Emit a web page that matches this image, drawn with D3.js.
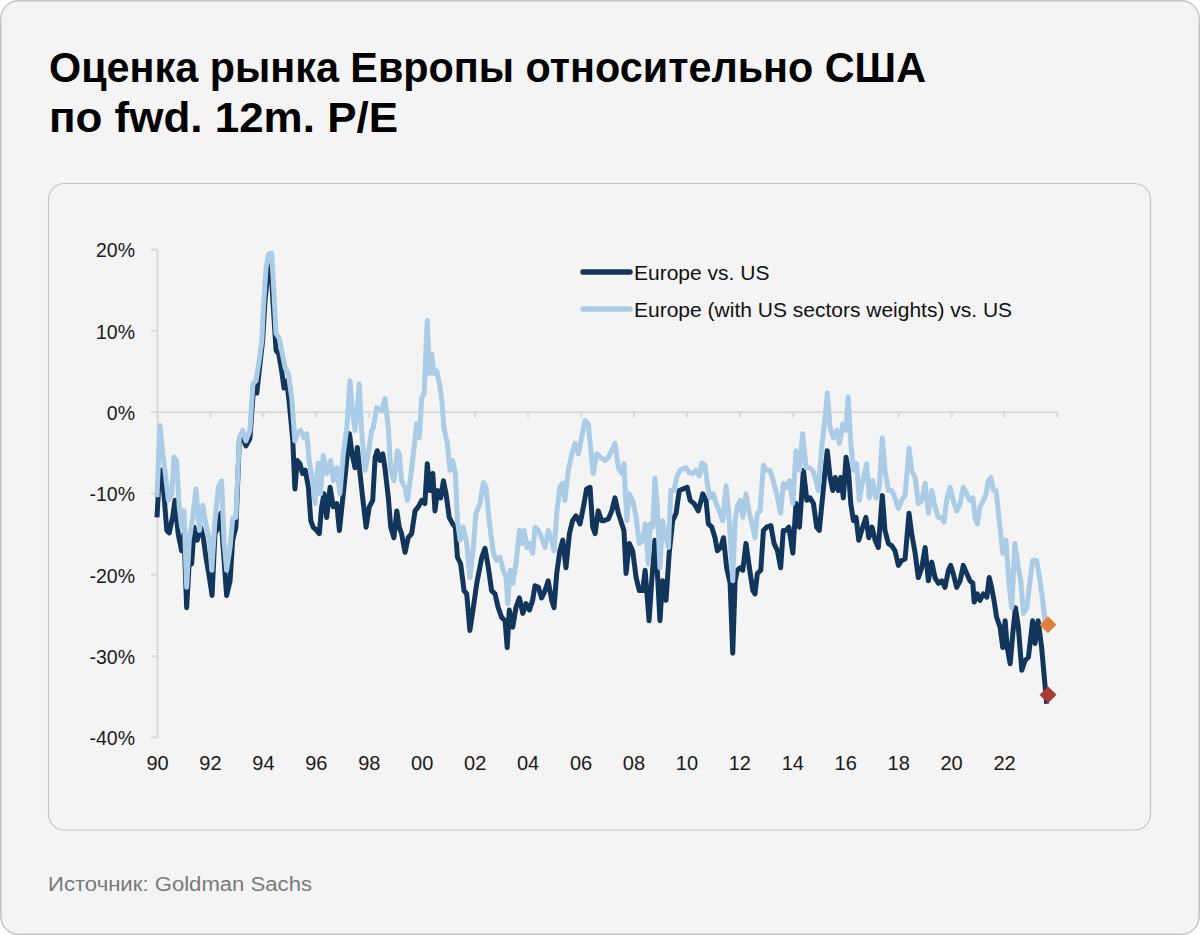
<!DOCTYPE html>
<html>
<head>
<meta charset="utf-8">
<script src="https://cdn.jsdelivr.net/npm/d3@7"></script>
<style>
  html, body { margin: 0; padding: 0; background: #ffffff; }
  svg { display: block; }
</style>
</head>
<body>
<svg id="chart" width="1200" height="935"></svg>
<script>
// ---------------- DATA ----------------
const titleLines = ["Оценка рынка Европы относительно США", "по fwd. 12m. P/E"];
const sourceText = "Источник: Goldman Sachs";
const seriesNames = ["Europe vs. US", "Europe (with US sectors weights) vs. US"];
const yTicks = [-40, -30, -20, -10, 0, 10, 20];
const xTicks = [1990,1992,1994,1996,1998,2000,2002,2004,2006,2008,2010,2012,2014,2016,2018,2020,2022,2024];
const xTickLabels = ["90","92","94","96","98","00","02","04","06","08","10","12","14","16","18","20","22",""];

// [decimal year, % relative valuation]
const europeVsUS = [
[1990.00,-13.0],[1990.09,-7.6],[1990.18,-7.2],[1990.26,-10.1],[1990.37,-14.6],[1990.46,-14.9],[1990.59,-13.0],[1990.68,-10.9],[1990.80,-15.0],[1990.93,-17.1],
[1991.02,-15.0],[1991.12,-24.1],[1991.22,-18.3],[1991.31,-18.7],[1991.40,-14.2],[1991.52,-15.8],[1991.65,-14.2],[1991.75,-15.5],[1991.85,-17.9],[1991.98,-20.4],
[1992.08,-22.6],[1992.19,-15.0],[1992.32,-14.2],[1992.41,-12.5],[1992.50,-16.7],[1992.63,-22.6],[1992.76,-20.8],[1992.86,-15.8],[1992.98,-14.2],[1993.11,-3.6],
[1993.24,-3.2],[1993.36,-4.2],[1993.51,-3.3],[1993.64,2.6],[1993.77,2.3],[1993.89,5.9],[1993.99,8.7],[1994.08,13.6],[1994.17,16.5],[1994.24,18.2],
[1994.32,16.9],[1994.42,11.5],[1994.50,7.5],[1994.60,7.1],[1994.71,5.0],[1994.80,2.9],[1994.90,3.8],[1995.00,1.0],[1995.13,-3.6],[1995.21,-9.5],
[1995.30,-6.0],[1995.40,-6.4],[1995.50,-7.6],[1995.60,-7.2],[1995.72,-9.3],[1995.81,-13.4],[1995.90,-14.2],[1996.03,-14.6],[1996.13,-15.0],[1996.22,-11.7],
[1996.31,-10.1],[1996.41,-13.0],[1996.54,-9.3],[1996.66,-11.7],[1996.79,-11.3],[1996.89,-14.6],[1997.02,-10.6],[1997.14,-6.9],[1997.27,-2.7],[1997.37,-5.2],
[1997.48,-6.9],[1997.57,-4.4],[1997.67,-7.6],[1997.77,-10.6],[1997.90,-14.2],[1998.02,-11.7],[1998.15,-10.9],[1998.24,-5.6],[1998.32,-4.8],[1998.42,-6.0],
[1998.53,-5.2],[1998.61,-6.9],[1998.74,-10.6],[1998.83,-14.2],[1998.95,-15.5],[1999.06,-12.2],[1999.15,-14.2],[1999.24,-15.0],[1999.37,-17.3],[1999.49,-15.5],
[1999.62,-15.0],[1999.75,-12.2],[1999.87,-11.7],[2000.00,-10.9],[2000.12,-11.3],[2000.21,-6.4],[2000.31,-9.7],[2000.42,-7.6],[2000.50,-12.2],[2000.60,-9.7],
[2000.72,-10.6],[2000.82,-8.5],[2000.92,-10.1],[2001.04,-13.0],[2001.17,-13.8],[2001.27,-14.2],[2001.35,-17.9],[2001.47,-18.7],[2001.60,-22.0],[2001.70,-22.4],
[2001.82,-26.9],[2001.95,-24.1],[2002.08,-21.1],[2002.27,-17.9],[2002.39,-16.8],[2002.52,-19.2],[2002.64,-22.0],[2002.77,-22.4],[2002.89,-24.1],[2003.02,-25.3],
[2003.15,-25.7],[2003.23,-29.0],[2003.31,-24.4],[2003.44,-26.5],[2003.56,-24.1],[2003.69,-22.9],[2003.82,-24.8],[2003.94,-23.6],[2004.07,-24.4],[2004.19,-23.2],
[2004.28,-21.4],[2004.41,-21.6],[2004.53,-22.9],[2004.66,-22.0],[2004.78,-20.8],[2004.91,-23.2],[2005.00,-24.1],[2005.10,-19.9],[2005.22,-17.1],[2005.33,-15.8],
[2005.45,-19.2],[2005.58,-15.0],[2005.70,-13.4],[2005.83,-12.8],[2005.98,-13.8],[2006.11,-11.7],[2006.23,-9.5],[2006.36,-9.3],[2006.46,-14.2],[2006.55,-15.0],
[2006.67,-12.2],[2006.80,-13.4],[2006.89,-13.4],[2007.05,-13.2],[2007.18,-12.2],[2007.30,-10.6],[2007.43,-12.5],[2007.56,-13.8],[2007.64,-14.6],[2007.72,-19.9],
[2007.84,-16.2],[2007.97,-17.1],[2008.10,-20.4],[2008.22,-22.0],[2008.35,-22.0],[2008.44,-19.5],[2008.59,-25.7],[2008.69,-20.8],[2008.81,-15.8],[2008.90,-19.5],
[2009.00,-25.7],[2009.10,-20.8],[2009.23,-23.2],[2009.35,-17.4],[2009.48,-13.4],[2009.61,-12.5],[2009.73,-9.7],[2009.88,-9.5],[2010.03,-9.3],[2010.14,-10.9],
[2010.29,-11.3],[2010.45,-12.2],[2010.62,-10.1],[2010.74,-10.9],[2010.83,-13.8],[2010.96,-14.2],[2011.08,-15.5],[2011.17,-17.1],[2011.30,-16.7],[2011.40,-15.5],
[2011.52,-19.2],[2011.65,-21.1],[2011.75,-29.7],[2011.84,-20.8],[2011.92,-19.5],[2012.03,-19.2],[2012.13,-19.5],[2012.25,-16.2],[2012.38,-19.2],[2012.51,-22.0],
[2012.59,-22.4],[2012.68,-19.9],[2012.81,-19.5],[2012.91,-14.6],[2013.03,-14.2],[2013.19,-14.0],[2013.31,-16.2],[2013.44,-17.1],[2013.56,-19.2],[2013.66,-14.6],
[2013.76,-14.6],[2013.87,-14.2],[2014.02,-17.4],[2014.14,-11.3],[2014.27,-14.2],[2014.42,-7.2],[2014.55,-10.9],[2014.67,-10.6],[2014.80,-11.3],[2014.92,-14.2],
[2015.02,-14.6],[2015.15,-10.3],[2015.24,-7.2],[2015.32,-4.8],[2015.43,-8.1],[2015.53,-9.7],[2015.62,-8.1],[2015.74,-9.7],[2015.83,-8.1],[2015.93,-10.6],
[2016.03,-5.6],[2016.12,-7.2],[2016.21,-11.3],[2016.31,-13.4],[2016.41,-13.0],[2016.51,-15.8],[2016.62,-14.6],[2016.78,-13.0],[2016.89,-15.5],[2017.01,-14.2],
[2017.13,-15.8],[2017.25,-16.7],[2017.40,-10.3],[2017.50,-14.6],[2017.63,-16.2],[2017.76,-16.5],[2017.88,-17.1],[2018.01,-18.9],[2018.13,-18.3],[2018.26,-18.1],
[2018.41,-12.5],[2018.51,-15.0],[2018.64,-17.4],[2018.76,-20.4],[2018.89,-19.2],[2019.02,-16.7],[2019.14,-20.8],[2019.27,-18.5],[2019.39,-20.4],[2019.52,-21.1],
[2019.65,-20.8],[2019.77,-21.6],[2019.90,-19.5],[2019.98,-18.9],[2020.08,-19.9],[2020.21,-21.6],[2020.34,-20.8],[2020.46,-18.9],[2020.59,-19.9],[2020.71,-20.8],
[2020.82,-21.1],[2020.87,-23.4],[2020.99,-22.4],[2021.09,-23.2],[2021.22,-22.4],[2021.35,-22.8],[2021.44,-20.4],[2021.53,-21.6],[2021.62,-23.2],[2021.72,-25.3],
[2021.85,-26.5],[2021.95,-29.0],[2022.04,-25.7],[2022.12,-29.0],[2022.23,-31.0],[2022.33,-27.3],[2022.43,-24.1],[2022.54,-26.5],[2022.67,-31.8],[2022.79,-30.6],
[2022.92,-30.2],[2023.08,-25.7],[2023.17,-28.5],[2023.29,-25.7],[2023.42,-29.0],[2023.61,-35.9]
];

const europeSectorAdjVsUS = [
[1990.00,-10.5],[1990.11,-1.7],[1990.22,-5.2],[1990.30,-7.2],[1990.43,-10.9],[1990.56,-10.1],[1990.64,-5.6],[1990.74,-6.0],[1990.84,-11.7],[1990.93,-14.2],
[1991.02,-12.2],[1991.12,-21.6],[1991.22,-15.8],[1991.35,-13.0],[1991.47,-9.5],[1991.60,-14.6],[1991.73,-11.5],[1991.85,-13.8],[1991.98,-15.8],[1992.07,-19.5],
[1992.19,-13.4],[1992.32,-9.3],[1992.44,-8.5],[1992.53,-15.8],[1992.63,-19.5],[1992.76,-16.7],[1992.86,-13.1],[1992.98,-13.0],[1993.11,-3.2],[1993.24,-2.3],
[1993.36,-3.6],[1993.51,-2.3],[1993.62,3.4],[1993.74,3.8],[1993.86,6.3],[1993.96,8.7],[1994.02,12.8],[1994.12,17.7],[1994.22,19.4],[1994.33,19.5],
[1994.42,14.5],[1994.50,9.6],[1994.62,9.0],[1994.71,7.5],[1994.84,5.4],[1994.96,4.7],[1995.09,1.7],[1995.21,-3.6],[1995.30,-2.7],[1995.43,-2.3],
[1995.55,-3.2],[1995.66,-2.7],[1995.75,-6.0],[1995.88,-8.5],[1995.97,-11.3],[1996.09,-6.3],[1996.18,-10.1],[1996.28,-5.4],[1996.41,-7.6],[1996.56,-6.0],
[1996.66,-8.5],[1996.79,-6.9],[1996.91,-10.1],[1997.04,-5.2],[1997.17,-2.0],[1997.29,3.8],[1997.39,-0.2],[1997.48,-2.3],[1997.57,0.5],[1997.64,3.4],
[1997.73,-2.3],[1997.86,-7.2],[1997.98,-5.2],[1998.11,-2.3],[1998.17,-2.0],[1998.30,0.5],[1998.49,0.1],[1998.61,1.6],[1998.74,-2.0],[1998.83,-7.2],
[1998.95,-8.5],[1999.08,-4.8],[1999.15,-5.2],[1999.24,-8.5],[1999.37,-9.3],[1999.46,-10.9],[1999.58,-8.1],[1999.71,-4.4],[1999.81,-1.5],[1999.91,-3.2],
[2000.00,1.7],[2000.09,2.2],[2000.21,11.2],[2000.29,4.7],[2000.38,7.1],[2000.46,4.7],[2000.57,5.0],[2000.67,3.4],[2000.76,1.4],[2000.84,-2.0],
[2000.97,-3.9],[2001.07,-7.2],[2001.17,-6.0],[2001.27,-7.6],[2001.35,-13.4],[2001.45,-15.8],[2001.57,-14.2],[2001.70,-16.2],[2001.82,-20.4],[2001.95,-16.7],
[2002.05,-12.5],[2002.20,-11.3],[2002.33,-8.7],[2002.43,-9.3],[2002.52,-12.5],[2002.61,-15.0],[2002.71,-17.4],[2002.83,-18.3],[2002.96,-17.9],[2003.08,-19.5],
[2003.19,-20.4],[2003.25,-23.6],[2003.34,-19.5],[2003.44,-21.1],[2003.56,-18.7],[2003.69,-14.6],[2003.78,-16.2],[2003.87,-14.6],[2003.97,-16.7],[2004.07,-16.2],
[2004.19,-17.4],[2004.28,-14.2],[2004.41,-14.6],[2004.53,-15.5],[2004.66,-16.7],[2004.78,-14.6],[2004.91,-15.8],[2005.00,-17.1],[2005.10,-12.5],[2005.22,-9.3],
[2005.33,-8.8],[2005.41,-10.9],[2005.54,-7.2],[2005.67,-5.2],[2005.79,-3.9],[2005.92,-5.2],[2006.04,-3.2],[2006.17,-1.1],[2006.29,-1.5],[2006.38,-4.4],
[2006.48,-7.6],[2006.61,-5.2],[2006.76,-5.6],[2006.93,-6.0],[2007.05,-5.6],[2007.18,-4.8],[2007.30,-3.9],[2007.43,-6.9],[2007.56,-7.6],[2007.64,-6.4],
[2007.75,-13.4],[2007.84,-10.1],[2007.97,-10.9],[2008.10,-13.0],[2008.22,-16.2],[2008.35,-15.8],[2008.44,-13.8],[2008.56,-18.7],[2008.63,-13.8],[2008.73,-14.2],
[2008.81,-8.2],[2008.90,-11.7],[2009.00,-19.2],[2009.10,-13.4],[2009.19,-15.0],[2009.32,-16.7],[2009.41,-9.7],[2009.53,-9.7],[2009.63,-8.1],[2009.76,-7.2],
[2009.88,-7.0],[2009.98,-6.9],[2010.11,-7.5],[2010.24,-7.6],[2010.36,-7.2],[2010.49,-7.9],[2010.58,-6.3],[2010.70,-6.6],[2010.79,-8.8],[2010.89,-10.6],
[2011.02,-10.1],[2011.12,-11.3],[2011.24,-12.2],[2011.37,-13.4],[2011.50,-9.1],[2011.62,-13.4],[2011.75,-20.8],[2011.84,-13.4],[2011.92,-11.7],[2012.03,-10.9],
[2012.13,-13.0],[2012.25,-10.1],[2012.38,-12.5],[2012.51,-14.2],[2012.59,-15.5],[2012.68,-12.5],[2012.78,-12.2],[2012.91,-6.6],[2013.03,-7.2],[2013.16,-7.2],
[2013.28,-8.5],[2013.41,-10.1],[2013.56,-12.5],[2013.66,-8.8],[2013.76,-9.3],[2013.89,-8.5],[2014.02,-11.3],[2014.14,-4.8],[2014.27,-7.2],[2014.39,-2.7],
[2014.52,-6.9],[2014.64,-6.9],[2014.77,-7.2],[2014.90,-8.5],[2014.98,-9.7],[2015.11,-4.4],[2015.24,-0.7],[2015.32,2.3],[2015.43,-2.0],[2015.55,-3.2],
[2015.68,-2.3],[2015.78,-3.9],[2015.91,-1.5],[2016.03,-2.3],[2016.11,1.8],[2016.21,-3.9],[2016.31,-7.2],[2016.43,-6.4],[2016.53,-10.9],[2016.66,-8.5],
[2016.81,-6.4],[2016.91,-10.6],[2017.04,-8.5],[2017.16,-10.6],[2017.29,-9.3],[2017.40,-3.2],[2017.50,-7.2],[2017.63,-9.7],[2017.76,-9.7],[2017.88,-10.6],
[2018.01,-11.9],[2018.13,-10.9],[2018.26,-10.3],[2018.41,-4.5],[2018.51,-7.2],[2018.64,-8.1],[2018.76,-11.3],[2018.89,-10.9],[2019.02,-8.8],[2019.14,-12.5],
[2019.27,-9.7],[2019.39,-11.7],[2019.52,-13.0],[2019.65,-13.0],[2019.73,-13.6],[2019.83,-10.9],[2019.96,-9.3],[2020.08,-10.9],[2020.21,-12.2],[2020.34,-11.3],
[2020.46,-9.3],[2020.59,-10.1],[2020.71,-10.9],[2020.82,-10.6],[2020.90,-13.0],[2020.99,-13.8],[2021.09,-11.7],[2021.22,-10.9],[2021.32,-10.1],[2021.41,-8.5],
[2021.50,-8.1],[2021.60,-9.7],[2021.70,-9.7],[2021.82,-13.4],[2021.95,-17.4],[2022.07,-15.8],[2022.20,-21.6],[2022.29,-24.1],[2022.41,-16.2],[2022.54,-19.2],
[2022.63,-20.8],[2022.73,-24.8],[2022.86,-24.1],[2022.95,-21.6],[2023.08,-18.3],[2023.23,-18.3],[2023.36,-20.8],[2023.46,-23.2],[2023.59,-26.9]
];

// latest-value markers
const latestDate = 2023.66;
const latestEurope = -34.8;
const latestSectorAdj = -26.2;

// ---------------- STYLE ----------------
const colDark = "#11355b";
const colLight = "#aacce7";
const colOrange = "#e0813b";
const colRed = "#a93b37";
const axisCol = "#d9d9d9";
const fontChart = "'Liberation Sans', Arial, Helvetica, sans-serif";

const svg = d3.select("#chart");

// outer card
svg.append("rect").attr("x", 0.75).attr("y", 0.75).attr("width", 1198.5).attr("height", 933.5)
  .attr("rx", 18).attr("fill", "#f4f4f4").attr("stroke", "#c6c6c6").attr("stroke-width", 1.5);

// title
const titleG = svg.append("g").attr("font-family", fontChart).attr("font-weight", 700)
  .attr("font-size", 43).attr("fill", "#000");
const titleWidths = [877, 349];
titleLines.forEach((t, i) => {
  titleG.append("text").attr("x", 49).attr("y", 82 + i * 50).text(t)
    .attr("textLength", titleWidths[i]).attr("lengthAdjust", "spacingAndGlyphs");
});

// inner card
svg.append("rect").attr("x", 48.5).attr("y", 183.5).attr("width", 1102).attr("height", 646.5)
  .attr("rx", 16).attr("fill", "#f4f4f4").attr("stroke", "#c6c6c6").attr("stroke-width", 1.2);

// source
svg.append("text").attr("x", 48).attr("y", 891).attr("font-family", fontChart)
  .attr("font-size", 20).attr("fill", "#7a7a7a").text(sourceText)
  .attr("textLength", 264).attr("lengthAdjust", "spacingAndGlyphs");

// scales
const x = d3.scaleLinear().domain([1990, 2024]).range([157, 1057]);
const y = d3.scaleLinear().domain([-40, 20]).range([737, 249]);

// y axis
const yAxis = svg.append("g").attr("transform", `translate(${x(1990)},0)`)
  .call(d3.axisLeft(y).tickValues(yTicks).tickSize(6).tickSizeOuter(0).tickPadding(16)
    .tickFormat(d => d + "%"));
yAxis.select(".domain").attr("stroke", axisCol).attr("stroke-width", 2);
yAxis.selectAll(".tick line").attr("stroke", axisCol).attr("stroke-width", 2);
yAxis.selectAll(".tick text").attr("font-family", fontChart).attr("font-size", 19.5)
  .attr("fill", "#1a1a1a").attr("dy", "0.4em");

// zero line with ticks
const xAxis = svg.append("g").attr("transform", `translate(0,${y(0)})`)
  .call(d3.axisBottom(x).tickValues(xTicks).tickSize(6).tickSizeOuter(0).tickFormat(""));
xAxis.select(".domain").attr("stroke", axisCol).attr("stroke-width", 2);
xAxis.selectAll(".tick line").attr("stroke", axisCol).attr("stroke-width", 2);

// x labels at bottom
const xLab = svg.append("g").attr("transform", `translate(0,756)`)
  .call(d3.axisBottom(x).tickValues(xTicks).tickSize(0).tickPadding(0)
    .tickFormat((d, i) => xTickLabels[i]));
xLab.select(".domain").remove();
xLab.selectAll(".tick text").attr("font-family", fontChart).attr("font-size", 20).attr("fill", "#1a1a1a");

// lines
const line = d3.line().x(d => x(d[0])).y(d => y(d[1]));
svg.append("path").datum(europeVsUS).attr("d", line).attr("fill", "none")
  .attr("stroke", colDark).attr("stroke-width", 5).attr("stroke-linejoin", "round");
svg.append("path").datum(europeSectorAdjVsUS).attr("d", line).attr("fill", "none")
  .attr("stroke", colLight).attr("stroke-width", 5).attr("stroke-linejoin", "round");

// latest markers
const diamond = d3.symbol().type(d3.symbolSquare).size(144);
svg.append("path").attr("d", diamond())
  .attr("transform", `translate(${x(latestDate)},${y(latestSectorAdj)}) rotate(45)`).attr("fill", colOrange);
svg.append("path").attr("d", diamond())
  .attr("transform", `translate(${x(latestDate)},${y(latestEurope)}) rotate(45)`).attr("fill", colRed);

// legend
const legend = svg.append("g").attr("font-family", fontChart).attr("font-size", 21).attr("fill", "#111");
const legCols = [colDark, colLight];
seriesNames.forEach((n, i) => {
  const ly = 272 + i * 37;
  legend.append("line").attr("x1", 583).attr("x2", 630).attr("y1", ly).attr("y2", ly)
    .attr("stroke", legCols[i]).attr("stroke-width", 5.5).attr("stroke-linecap", "round");
  legend.append("text").attr("x", 634).attr("y", ly + 7.5).text(n);
});
</script>
</body>
</html>
